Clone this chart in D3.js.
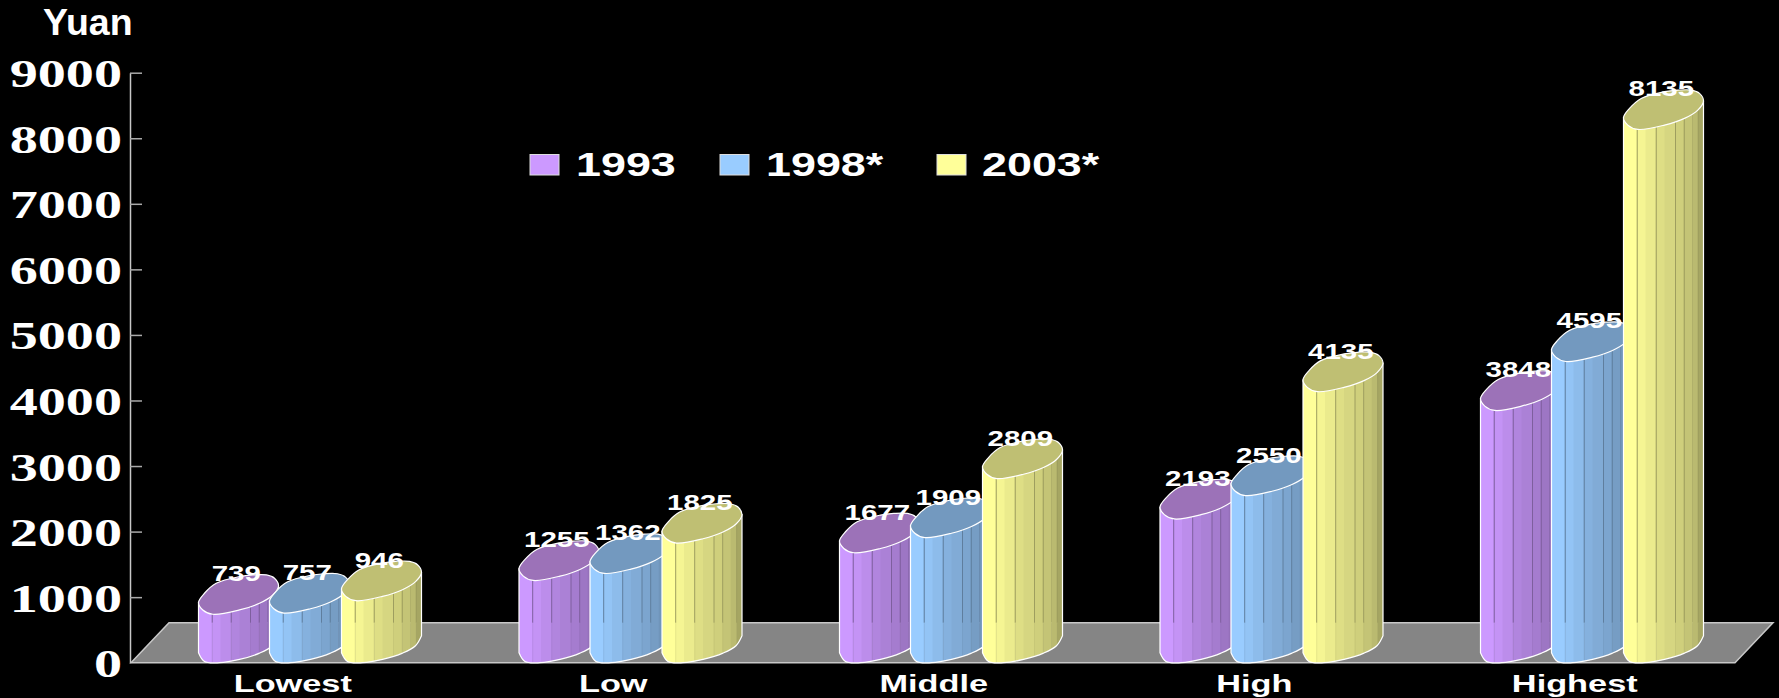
<!DOCTYPE html>
<html><head><meta charset="utf-8">
<script src="https://cdn.jsdelivr.net/npm/d3@7"></script>
<style>html,body{margin:0;padding:0;background:#000;overflow:hidden}svg{display:block}</style>
</head><body><svg id="c" width="1779" height="698"></svg>
<script>
const categories = ["Lowest","Low","Middle","High","Highest"];
const seriesNames = ["1993","1998*","2003*"];
const v1993 = [739,1255,1677,2193,3848];
const v1998 = [757,1362,1909,2550,4595];
const v2003 = [946,1825,2809,4135,8135];
const yTicks = [0,1000,2000,3000,4000,5000,6000,7000,8000,9000];
const seriesValues = [v1993,v1998,v2003];
const baseColors = ["#cc99ff","#99ccff","#ffff99"];
const capColors = ["#9c72b8","#7399bf","#bfbf73"];

const barW = 80;
const capFront = [[0,-11.7],[4.3,-4.3],[14.3,0],[41,-4.3],[61,-11],[74.3,-19.3],[80,-28.3]];
const capBack = [[76,-36],[68,-39.3],[54.3,-39.3],[41,-37.7],[17.7,-31],[6,-21]];
const baseFront = [[0,-10],[6,-1.2],[21,0],[41,-3.3],[61,-9.6],[74,-17],[80,-27]];
const bandEdges = [0,7,13.7,22,32.7,41,52,60.7,68.7,74.7,80];
const bandShade = [1,1,.96,.92,.87,.84,.81,.77,.73,.65];
const darkLines = [13.7,32.7,52,60.7,74.7];

const svg = d3.select("#c");
const y = d3.scaleLinear().domain([0,9000]).range([662.7,72.7]);
const x0 = d3.scaleBand().domain(categories).range([133.5,1736]);
const x1 = d3.scaleOrdinal().domain(seriesNames).range([65,136,208]);
const floorBackY = 622.7;

// floor
svg.append("path")
  .attr("d",`M131,${y(0)}L169,${floorBackY}L1773,${floorBackY}L1735,${y(0)}Z`)
  .attr("fill","#858585").attr("stroke","#c8c8c8").attr("stroke-width",1.5);

function stretched(sel,tx,ty,sx){ sel.attr("transform",`translate(${tx},${ty}) scale(${sx},1)`); }

// axis
const axis = svg.append("g").attr("transform","translate(130,0)")
  .call(d3.axisLeft(y).tickValues(yTicks).tickSizeInner(-12).tickSizeOuter(0).tickFormat(d3.format("d")));
axis.select(".domain").attr("stroke","#c8c8c8").attr("stroke-width",1.5);
axis.selectAll(".tick line").attr("stroke","#aaa").attr("stroke-width",1.5);
axis.selectAll(".tick text")
  .attr("x",null).attr("dy",null).attr("text-anchor","end")
  .attr("font-family","'Liberation Serif'").attr("font-weight","bold")
  .attr("font-size",41).attr("fill","#fff")
  .attr("transform","translate(-8,14) scale(1.37,1)");
axis.selectAll(".tick").filter(d=>d===0).select("line").attr("stroke","none");

// axis title
svg.append("text").text("Yuan").attr("x",43).attr("y",35)
  .attr("font-family","'Liberation Sans'").attr("font-weight","bold").attr("font-size",37.5).attr("fill","#fff");

const capLine = d3.line().curve(d3.curveCatmullRomClosed.alpha(0.5));
const frontLine = d3.line().curve(d3.curveCatmullRom.alpha(0.5));
const defs = svg.append("defs");

function shade(col,k){ const c=d3.rgb(col); return d3.rgb(c.r*k,c.g*k,c.b*k).formatHex(); }

categories.forEach((cat,ci)=>{
  seriesNames.forEach((s,si)=>{
    const v = seriesValues[si][ci];
    const left = x0(cat)+x1(s);
    const top = y(v), base = y(0);
    const bodyD = frontLine(baseFront.map(p=>[left+p[0],base+p[1]]))
      + `L${left+barW},${top-28.3}L${left},${top-11.7}Z`;
    const id = `clip-${ci}-${si}`;
    defs.append("clipPath").attr("id",id).append("path").attr("d",bodyD);
    const g = svg.append("g");
    const bands = g.append("g").attr("clip-path",`url(#${id})`);
    bandShade.forEach((k,i)=>{
      bands.append("rect").attr("x",left+bandEdges[i]).attr("width",bandEdges[i+1]-bandEdges[i]+.5)
        .attr("y",top-45).attr("height",base-top+50).attr("fill",shade(baseColors[si],k));
    });
    darkLines.forEach(dx=>{
      bands.append("line").attr("x1",left+dx).attr("x2",left+dx)
        .attr("y1",top-45).attr("y2",Math.max(floorBackY,top-45)).attr("stroke",shade(baseColors[si],.62)).attr("stroke-width",1);
      bands.append("line").attr("x1",left+dx).attr("x2",left+dx)
        .attr("y1",floorBackY).attr("y2",base+5).attr("stroke",shade(baseColors[si],.62)).attr("stroke-opacity",.22).attr("stroke-width",1);
    });
    g.append("path").attr("d",bodyD).attr("fill","none").attr("stroke","#fff").attr("stroke-width",1.2);
    const capPts = capFront.concat(capBack).map(p=>[left+p[0],top+p[1]]);
    g.append("path").attr("d",capLine(capPts)).attr("fill",capColors[si]).attr("stroke","#fff").attr("stroke-width",1.2);
    g.append("text").text(v).attr("text-anchor","middle")
      .attr("font-family","'Liberation Sans'").attr("font-weight","bold").attr("font-size",22).attr("fill","#fff")
      .call(stretched,left+37.8,top-33,1.34);
  });
  svg.append("text").text(cat).attr("text-anchor","middle")
    .attr("font-family","'Liberation Sans'").attr("font-weight","bold").attr("font-size",23.5).attr("fill","#fff")
    .call(stretched,x0(cat)+x0.bandwidth()/2-1,691.7,1.46);
});

// legend
const legendSwatch = [530,720,937];
const legendText = [576,766,982];
seriesNames.forEach((s,i)=>{
  svg.append("rect").attr("x",legendSwatch[i]).attr("y",154.5).attr("width",29).attr("height",20.5)
    .attr("fill",baseColors[i]).attr("stroke","#ddd").attr("stroke-width",1);
  svg.append("text").text(s)
    .attr("font-family","'Liberation Sans'").attr("font-weight","bold").attr("font-size",33).attr("fill","#fff")
    .call(stretched,legendText[i],176,1.36);
});
</script></body></html>
